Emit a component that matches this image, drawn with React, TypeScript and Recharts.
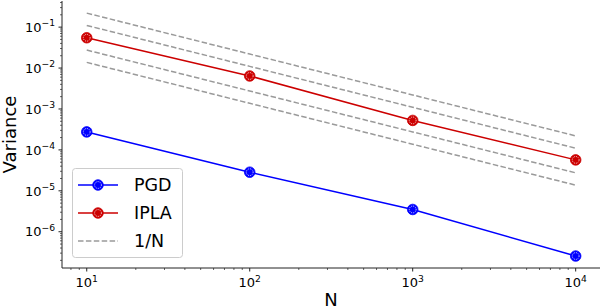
import React from 'react';
import { LineChart, Line, XAxis, YAxis, Legend } from 'recharts';

const N_VALUES = [10, 100, 1000, 10000];
const PGD = [2.75e-4, 2.85e-5, 3.5e-6, 2.55e-7];
const IPLA = [0.055, 0.0064, 5.25e-4, 5.7e-5];
const REF_A = [0.22, 0.022, 0.0022, 0.00022];
const REF_B = [0.11, 0.011, 0.0011, 0.00011];
const REF_C = [0.0275, 0.00275, 0.000275, 0.0000275];
const REF_D = [0.01375, 0.001375, 0.0001375, 0.00001375];

const X_MAJOR = [1, 10, 100, 1000, 10000];
const Y_MAJOR = [1e-7, 1e-6, 1e-5, 1e-4, 1e-3, 1e-2, 1e-1];
const MINOR_MULT = [2, 3, 4, 5, 6, 7, 8, 9];

const X_DOMAIN: [number, number] = [7.05, 14100];
const Y_DOMAIN: [number, number] = [1.3e-7, 0.435];

const data = N_VALUES.map((n, i) => ({
  n,
  pgd: PGD[i],
  ipla: IPLA[i],
  ra: REF_A[i],
  rb: REF_B[i],
  rc: REF_C[i],
  rd: REF_D[i],
}));

const withMinors = (majors: number[], dom: [number, number]) => {
  const all: number[] = [];
  majors.forEach((m) => {
    all.push(m);
    MINOR_MULT.forEach((k) => all.push(m * k));
  });
  return all.filter((v) => v >= dom[0] && v <= dom[1]).sort((a, b) => a - b);
};

const X_TICKS = withMinors(X_MAJOR, X_DOMAIN);
const Y_TICKS = withMinors(Y_MAJOR, Y_DOMAIN);

const FONT = '"DejaVu Sans", sans-serif';
const BLUE = '#0000ff';
const RED = '#cc0000';
const GRAY = '#9a9a9a';
const AXIS = '#222';
const TS = 3.5;
const TM = 3.5;

const isMajor = (v: number) => {
  const l = Math.log10(v);
  return Math.abs(l - Math.round(l)) < 1e-6;
};

const Pow = ({ exp }: { exp: number }) => (
  <>
    <tspan>10</tspan>
    <tspan dy={-5.5} fontSize={9.2}>
      {exp < 0 ? '\u2212' : ''}
      {Math.abs(exp)}
    </tspan>
  </>
);

const YTick = (props: any) => {
  const { x, y, payload } = props;
  const v = payload.value;
  const maj = isMajor(v);
  const ax = x + TS + TM;
  return (
    <g>
      <line x1={ax} x2={ax - (maj ? 3.5 : 2)} y1={y} y2={y} stroke={AXIS} strokeWidth={maj ? 1 : 0.7} />
      {maj && (
        <text x={ax - 7} y={y + 4.7} textAnchor="end" fontSize={13} fontFamily={FONT} fill="#000">
          <Pow exp={Math.round(Math.log10(v))} />
        </text>
      )}
    </g>
  );
};

const XTick = (props: any) => {
  const { x, y, payload } = props;
  const v = payload.value;
  const maj = isMajor(v);
  const ay = y - TS - TM;
  return (
    <g>
      <line x1={x} x2={x} y1={ay} y2={ay + (maj ? 3.5 : 2)} stroke={AXIS} strokeWidth={maj ? 1 : 0.7} />
      {maj && (
        <text x={x} y={ay + 19} textAnchor="middle" fontSize={13} fontFamily={FONT} fill="#000">
          <Pow exp={Math.round(Math.log10(v))} />
        </text>
      )}
    </g>
  );
};

const Marker = ({ cx, cy, color }: { cx: number; cy: number; color: string }) => (
  <g>
    <circle cx={cx} cy={cy} r={5.3} fill={color} stroke={color} strokeWidth={0.8} />
    <circle cx={cx} cy={cy} r={3.4} fill="none" stroke="#fff" strokeWidth={0.8} strokeDasharray="1 1" />
  </g>
);

const YTitle = (props: any) => {
  const vb = props.viewBox || { x: 0, y: 1, width: 62, height: 267 };
  const cy = vb.y + vb.height / 2;
  const tx = 15.5;
  return (
    <text x={tx} y={cy} transform={`rotate(-90, ${tx}, ${cy})`} textAnchor="middle" fontSize={18} fontFamily={FONT} fill="#000">
      Variance
    </text>
  );
};

const XTitle = (props: any) => {
  const vb = props.viewBox || { x: 62, y: 268, width: 538, height: 40 };
  const cx = vb.x + vb.width / 2;
  return (
    <text x={cx} y={305.5} textAnchor="middle" fontSize={18} fontFamily={FONT} fill="#000">
      N
    </text>
  );
};

const LEGEND_ITEMS = [
  { label: 'PGD', color: BLUE, dashed: false },
  { label: 'IPLA', color: RED, dashed: false },
  { label: '1/N', color: GRAY, dashed: true },
];

const LegendBox = () => (
  <svg width={112} height={91} style={{ display: 'block' }}>
    <rect x={0.5} y={0.5} width={110} height={89} rx={3} ry={3} fill="#fff" fillOpacity={0.85} stroke="#cccccc" strokeWidth={1} />
    {LEGEND_ITEMS.map((it, i) => {
      const cy = 17 + i * 28;
      return (
        <g key={it.label}>
          <line
            x1={6}
            x2={46}
            y1={cy}
            y2={cy}
            stroke={it.color}
            strokeWidth={1.5}
            strokeDasharray={it.dashed ? '5.5 2.4' : undefined}
          />
          {!it.dashed && <Marker cx={26} cy={cy} color={it.color} />}
          <text x={62} y={cy + 6.4} fontSize={17.5} fontFamily={FONT} fill="#000">
            {it.label}
          </text>
        </g>
      );
    })}
  </svg>
);

export default function App() {
  return (
    <div style={{ position: 'absolute', left: 0, top: 0, width: 602, height: 308, background: '#fff' }}>
      <LineChart width={602} height={308} data={data} margin={{ top: 1, right: 2, bottom: 0, left: 0 }}>
        <XAxis
          dataKey="n"
          type="number"
          scale="log"
          domain={X_DOMAIN}
          allowDataOverflow
          ticks={X_TICKS}
          interval={0}
          height={40}
          tickSize={TS}
          tickMargin={TM}
          tickLine={false}
          tick={<XTick />}
          axisLine={{ stroke: AXIS, strokeWidth: 1 }}
          label={<XTitle />}
        />
        <XAxis
          xAxisId="top"
          orientation="top"
          type="number"
          domain={[0, 1]}
          height={0}
          tick={false}
          tickLine={false}
          axisLine={{ stroke: AXIS, strokeWidth: 1 }}
        />
        <YAxis
          type="number"
          scale="log"
          domain={Y_DOMAIN}
          allowDataOverflow
          ticks={Y_TICKS}
          interval={0}
          width={62}
          tickSize={TS}
          tickMargin={TM}
          tickLine={false}
          tick={<YTick />}
          axisLine={{ stroke: AXIS, strokeWidth: 1 }}
          label={<YTitle />}
        />
        <YAxis
          yAxisId="right"
          orientation="right"
          type="number"
          domain={[0, 1]}
          width={0}
          tick={false}
          tickLine={false}
          axisLine={{ stroke: AXIS, strokeWidth: 1 }}
        />
        <Line
          dataKey="pgd"
          stroke={BLUE}
          strokeWidth={1.5}
          isAnimationActive={false}
          activeDot={false}
          dot={(p: any) => <Marker key={`p${p.index}`} cx={p.cx} cy={p.cy} color={BLUE} />}
        />
        <Line
          dataKey="ipla"
          stroke={RED}
          strokeWidth={1.5}
          isAnimationActive={false}
          activeDot={false}
          dot={(p: any) => <Marker key={`i${p.index}`} cx={p.cx} cy={p.cy} color={RED} />}
        />
        {['ra', 'rb', 'rc', 'rd'].map((k) => (
          <Line
            key={k}
            dataKey={k}
            stroke={GRAY}
            strokeWidth={1.5}
            strokeDasharray="5.5 2.4"
            dot={false}
            activeDot={false}
            isAnimationActive={false}
          />
        ))}
        <Legend
          layout="vertical"
          align="center"
          verticalAlign="middle"
          content={<LegendBox />}
          wrapperStyle={{ left: 72, top: 168, width: 112, height: 91 }}
        />
      </LineChart>
    </div>
  );
}
